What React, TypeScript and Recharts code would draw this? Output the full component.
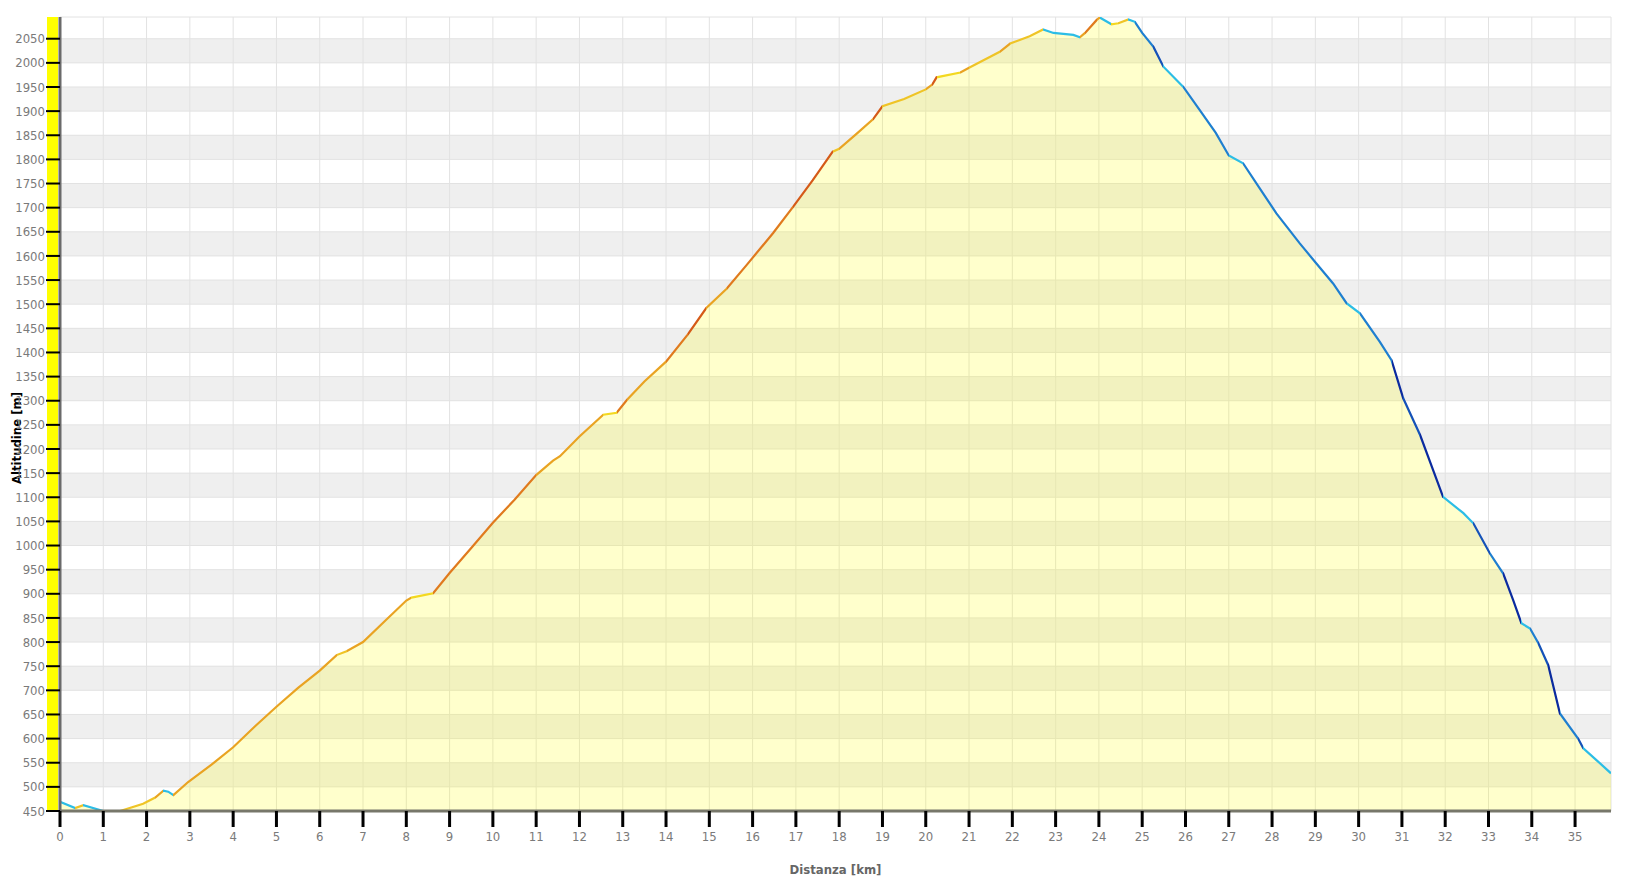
import React from 'react';
import { ComposedChart, Area, Line, XAxis, YAxis, CartesianGrid } from 'recharts';

// elevation profile
const distanceKm = [
  0, 0.35, 0.54, 1.0, 1.39, 1.92, 2.2, 2.39, 2.5, 2.62, 2.96, 3.5, 4.0, 4.5, 5.0, 5.5, 6.0, 6.39, 6.62,
  7.0, 7.5, 8.0, 8.12, 8.62, 9.0, 9.5, 10.0, 10.5, 11.0, 11.39, 11.55, 12.0, 12.55, 12.86, 13.1,
  13.5, 14.0, 14.5, 14.93, 15.4, 15.86, 16.47, 16.93, 17.39, 17.85, 18.0, 18.4, 18.78, 19.0, 19.5,
  20.0, 20.15, 20.25, 20.8, 21.0, 21.5, 21.71, 21.95, 22.4, 22.71, 22.95, 23.41, 23.56, 23.68,
  23.95, 24.02, 24.29, 24.45, 24.68, 24.83, 25.0, 25.26, 25.49, 25.95, 26.33, 26.7, 27.0, 27.33,
  27.7, 28.1, 28.64, 29.0, 29.41, 29.72, 30.03, 30.49, 30.76, 31.03, 31.42, 31.95, 32.42, 32.65,
  33.03, 33.34, 33.57, 33.76, 33.96, 34.15, 34.38, 34.65, 35.07, 35.19, 35.5, 35.83,
];
const altitudeM = [
  469, 456, 462, 450, 450, 465, 478, 492, 490, 483, 510, 546, 582, 625, 666, 705, 741, 773, 781,
  800, 843, 886, 892, 901, 943, 995, 1047, 1095, 1146, 1176, 1185, 1226, 1271, 1275, 1302,
  1340, 1381, 1437, 1492, 1532, 1581, 1647, 1701, 1757, 1816, 1822, 1853, 1883, 1910, 1925,
  1945, 1955, 1970, 1980, 1990, 2013, 2023, 2040, 2055, 2069, 2062, 2058, 2053, 2062,
  2089, 2094, 2080, 2082, 2090, 2085, 2062, 2033, 1992, 1950, 1902, 1855, 1808, 1792,
  1742, 1688, 1626, 1587, 1543, 1502, 1481, 1422, 1384, 1305, 1229, 1101, 1067, 1046,
  984, 942, 887, 839, 828, 798, 752, 652, 600, 580, 555, 528,
];

const xTicks = [
  0, 1, 2, 3, 4, 5, 6, 7, 8, 9, 10, 11, 12, 13, 14, 15, 16, 17, 18, 19, 20, 21, 22, 23, 24, 25, 26,
  27, 28, 29, 30, 31, 32, 33, 34, 35,
];
const yTicks = [
  450, 500, 550, 600, 650, 700, 750, 800, 850, 900, 950, 1000, 1050, 1100, 1150, 1200, 1250, 1300,
  1350, 1400, 1450, 1500, 1550, 1600, 1650, 1700, 1750, 1800, 1850, 1900, 1950, 2000, 2050,
];

const chartData = distanceKm.map((km, i) => ({ km, alt: altitudeM[i] }));

const TICK_FONT = '"Liberation Sans Narrow", "DejaVu Sans Condensed", sans-serif';
const TITLE_FONT = '"DejaVu Sans Condensed", "DejaVu Sans", sans-serif';

// line colour follows the gradient in %
const gradeColor = (g: number) => {
  if (g >= 12) return '#d55a18';
  if (g >= 9.5) return '#e07a1e';
  if (g >= 5) return '#e9a322';
  if (g >= 2) return '#efc426';
  if (g >= 0) return '#f3d820';
  if (g >= -10) return '#2cbde6';
  if (g >= -16) return '#1f7fd0';
  if (g >= -21) return '#1552b8';
  return '#0b2b9f';
};

export default function App() {
  const xMax = distanceKm[distanceKm.length - 1];
  const stops: { offset: number; color: string }[] = [];
  for (let i = 0; i < chartData.length - 1; i++) {
    const a = chartData[i];
    const b = chartData[i + 1];
    const g = ((b.alt - a.alt) / ((b.km - a.km) * 1000)) * 100;
    const c = gradeColor(g);
    stops.push({ offset: a.km / xMax, color: c });
    stops.push({ offset: b.km / xMax, color: c });
  }

  return (
    <div style={{ position: 'absolute', left: 0, top: 0, width: 1638, height: 877, background: '#fff' }}>
      <div style={{ position: 'absolute', left: 47, top: 17, width: 11, height: 794, background: '#ffff00' }} />
      <div style={{ position: 'absolute', left: 0, top: 0 }}>
        <ComposedChart width={1638} height={877} data={chartData} margin={{ top: 17, right: 27, left: 0, bottom: 0 }}>
          <defs>
            <linearGradient id="slope" x1="0" y1="0" x2="1" y2="0">
              {stops.map((s, i) => (
                <stop key={i} offset={s.offset} stopColor={s.color} />
              ))}
            </linearGradient>
          </defs>
          <CartesianGrid stroke="#e2e2e2" horizontalFill={['transparent', '#efefef']} />
          <XAxis
            dataKey="km"
            type="number"
            domain={[0, xMax]}
            ticks={xTicks}
            allowDataOverflow
            height={66}
            axisLine={{ stroke: '#77776a', strokeWidth: 3 }}
            tickLine={{ stroke: '#000', strokeWidth: 3 }}
            tickSize={16}
            tickMargin={5}
            tick={{ fill: '#7a7a7a', fontSize: 13, fontFamily: TICK_FONT }}
            label={{ value: 'Distanza [km]', position: 'insideBottom', offset: 3, fill: '#666', fontSize: 13, fontWeight: 'bold', fontFamily: TITLE_FONT }}
          />
          <YAxis
            type="number"
            domain={[450, 2095]}
            ticks={yTicks}
            allowDataOverflow
            width={60}
            axisLine={{ stroke: '#6a6a6a', strokeWidth: 3 }}
            tickLine={{ stroke: '#000', strokeWidth: 2 }}
            tickSize={14}
            tickMargin={1}
            tick={{ fill: '#7a7a7a', fontSize: 13, fontFamily: TICK_FONT }}
            label={() => (
              <text
                transform="translate(21,438) rotate(-90)"
                textAnchor="middle"
                fontSize={13}
                fontWeight="bold"
                fontFamily={TITLE_FONT}
                fill="#000"
              >
                Altitudine [m]
              </text>
            )}
          />
          <Area type="linear" dataKey="alt" stroke="none" fill="#ffff00" fillOpacity={0.2} isAnimationActive={false} />
          <Line type="linear" dataKey="alt" stroke="url(#slope)" strokeWidth={2.2} dot={false} activeDot={false} isAnimationActive={false} />
        </ComposedChart>
      </div>
    </div>
  );
}
